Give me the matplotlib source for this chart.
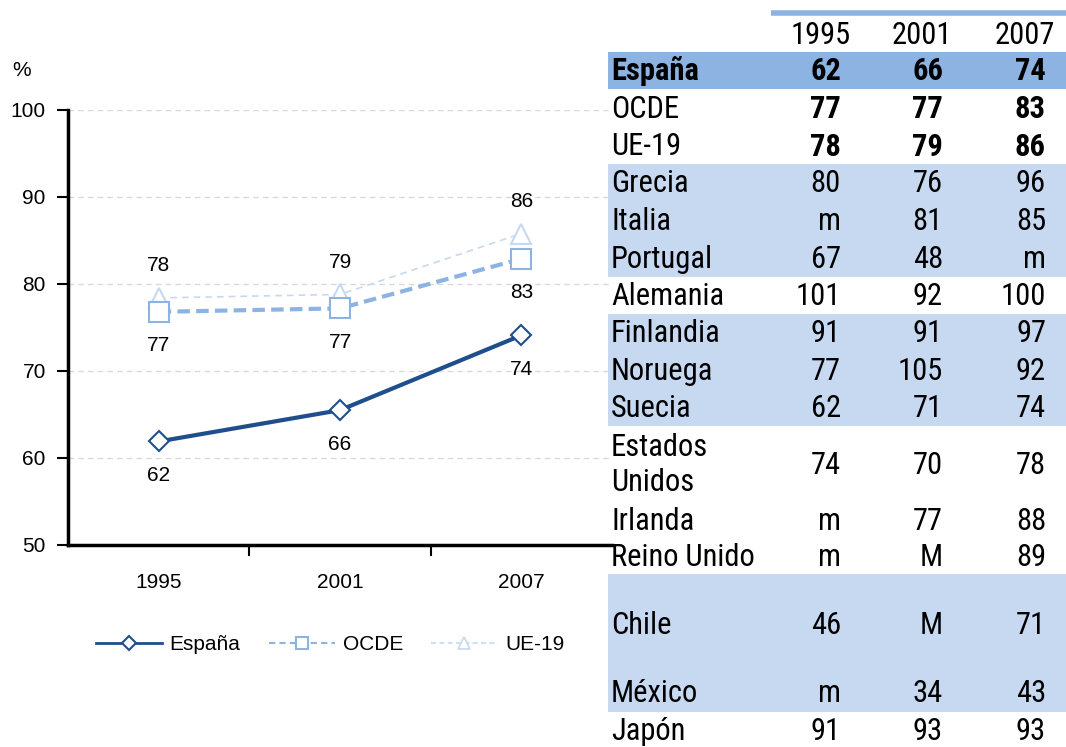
import matplotlib
matplotlib.use("Agg")
import matplotlib.pyplot as plt
from matplotlib.patches import Rectangle
from matplotlib.lines import Line2D

# ---------------- data ----------------
years = ["1995", "2001", "2007"]
espana_vals = [61.9, 65.5, 74.1]
ocde_vals = [76.8, 77.2, 82.9]
ue19_vals = [78.4, 78.8, 85.8]
espana_labels = ["62", "66", "74"]
ocde_labels = ["77", "77", "83"]
ue19_labels = ["78", "79", "86"]

table_header = ["1995", "2001", "2007"]
table_names = ["España", "OCDE", "UE-19", "Grecia", "Italia", "Portugal", "Alemania",
               "Finlandia", "Noruega", "Suecia", "Estados\nUnidos", "Irlanda",
               "Reino Unido", "Chile", "México", "Japón"]
table_1995 = ["62", "77", "78", "80", "m", "67", "101", "91", "77", "62", "74", "m", "m", "46", "m", "91"]
table_2001 = ["66", "77", "79", "76", "81", "48", "92", "91", "105", "71", "70", "77", "M", "M", "34", "93"]
table_2007 = ["74", "83", "86", "96", "85", "m", "100", "97", "92", "74", "78", "88", "89", "71", "43", "93"]

# ---------------- styles ----------------
W, H = 1066, 747
DARK = "#1F4E8C"
MID = "#8DB3E2"
LIGHT = "#C6D9F1"
chart_font = ["Liberation Sans", "DejaVu Sans"]
table_font = ["Roboto Condensed", "PT Sans Narrow", "DejaVu Sans"]
fs = 15

fig = plt.figure(figsize=(W / 100, H / 100), dpi=100)

# ---------------- chart ----------------
ax = fig.add_axes([68 / W, 1 - 545 / H, (612 - 68) / W, (545 - 110) / H])
x = list(range(len(years)))
ax.set_xlim(-0.5, 2.5)
ax.set_ylim(50, 100)

for yv in range(60, 101, 10):
    ax.axhline(yv, color="#D9D9D9", lw=1, ls=(0, (4, 3)), zorder=0)

ax.plot(x, ue19_vals, color=LIGHT, lw=1.2, ls=(0, (4, 3)), marker="^", ms=14,
        mfc="white", mec=LIGHT, mew=1.5, label="UE-19", zorder=2)
ax.plot(x, ocde_vals, color=MID, lw=3, ls=(0, (3, 1.5)), marker="s", ms=15,
        mfc="white", mec=MID, mew=1.5, label="OCDE", zorder=3)
ax.plot(x, espana_vals, color=DARK, lw=3, marker="D", ms=10,
        mfc="white", mec=DARK, mew=1.5, label="España", zorder=4)

for xi, v, t in zip(x, ue19_vals, ue19_labels):
    ax.annotate(t, (xi, v), xytext=(0, 32), textcoords="offset pixels",
                ha="center", va="center", fontsize=fs, family=chart_font)
for xi, v, t in zip(x, ocde_vals, ocde_labels):
    ax.annotate(t, (xi, v), xytext=(0, -34), textcoords="offset pixels",
                ha="center", va="center", fontsize=fs, family=chart_font)
for xi, v, t in zip(x, espana_vals, espana_labels):
    ax.annotate(t, (xi, v), xytext=(0, -34), textcoords="offset pixels",
                ha="center", va="center", fontsize=fs, family=chart_font)

for s in ["top", "right"]:
    ax.spines[s].set_visible(False)
for s in ["left", "bottom"]:
    ax.spines[s].set_linewidth(2.5)
    ax.spines[s].set_color("black")

ax.set_yticks(range(50, 101, 10))
ax.set_xticks(x)
ax.set_xticklabels(years)
ax.set_xticks([0.5, 1.5], minor=True)
ax.tick_params(axis="x", which="major", length=0, pad=20, labelsize=fs)
ax.tick_params(axis="x", which="minor", length=8, width=1.5, direction="out")
ax.tick_params(axis="y", length=8, width=1.5, direction="out", pad=8, labelsize=fs)
for lab in ax.get_xticklabels() + ax.get_yticklabels():
    lab.set_family(chart_font)

fig.text(12 / W, 1 - 70 / H, "%", fontsize=fs, family=chart_font, va="center")

labels = ["España", "OCDE", "UE-19"]
leg_handles = [
    Line2D([], [], color=DARK, lw=2, marker="D", ms=7, mfc="white", mec=DARK, mew=1.5),
    Line2D([], [], color=MID, lw=1.5, ls=(0, (3, 2)), marker="s", ms=9, mfc="white", mec=MID, mew=1.5),
    Line2D([], [], color=LIGHT, lw=1.2, ls=(0, (3, 2)), marker="^", ms=9, mfc="white", mec=LIGHT, mew=1.2),
]
fig.legend(leg_handles, labels, loc="center",
           bbox_to_anchor=(330 / W, 1 - 645 / H), ncol=3, frameon=False,
           handlelength=3.2, handletextpad=0.35, columnspacing=1.35,
           prop={"family": chart_font, "size": fs})

# ---------------- table ----------------
tax = fig.add_axes([0, 0, 1, 1])
tax.set_xlim(0, W)
tax.set_ylim(H, 0)
tax.axis("off")
tax.patch.set_alpha(0)

row_tops = [52, 89, 127, 164, 202, 239, 277, 314, 351, 389, 426, 502, 539, 574, 674, 712, 749]
row_bg = ["mid", None, None, "light", "light", "light", None, "light", "light", "light",
          None, None, None, "light", "light", None]
left, right = 608, 1066
col_right = [841, 943, 1046]
head_right = [851, 952, 1055]
tsize = 22

tax.plot([771, 1066], [13, 13], color=MID, lw=4, solid_capstyle="butt")
for cx, t in zip(head_right, table_header):
    tax.text(cx, 35, t, ha="right", va="center", fontsize=tsize, family=table_font)

for i, name in enumerate(table_names):
    top, bot = row_tops[i], row_tops[i + 1]
    bg = row_bg[i]
    if bg is not None:
        tax.add_patch(Rectangle((left, top), right - left, bot - top,
                                facecolor=MID if bg == "mid" else LIGHT,
                                edgecolor="none", zorder=1))
    cy = (top + bot) / 2 + 1
    name_w = "bold" if i == 0 else "normal"
    val_w = "bold" if i < 3 else "normal"
    tax.text(611, cy, name, ha="left", va="center", fontsize=tsize, family=table_font,
             fontweight=name_w, linespacing=1.3, zorder=3)
    for cx, v in zip(col_right, [table_1995[i], table_2001[i], table_2007[i]]):
        tax.text(cx, cy, v, ha="right", va="center", fontsize=tsize, family=table_font,
                 fontweight=val_w, zorder=3)

fig.savefig("out.png", dpi=100)
